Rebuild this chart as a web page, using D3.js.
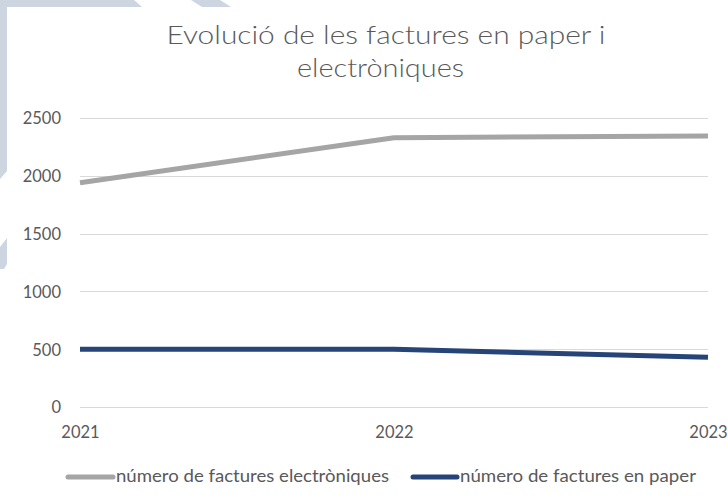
<!DOCTYPE html>
<html><head><meta charset="utf-8">
<script src="https://cdn.jsdelivr.net/npm/d3@7"></script>
<style>html,body{margin:0;padding:0;background:#fff;}svg{display:block;}</style>
</head><body>
<svg id="c" width="728" height="502"></svg>
<script>
const years = ["2021", "2022", "2023"];
const electroniques = [1940, 2330, 2345];
const paper = [500, 500, 430];
const yTicks = [0, 500, 1000, 1500, 2000, 2500];
const titleLines = ["Evolució de les factures en paper i", "electròniques"];
const seriesNames = ["número de factures electròniques", "número de factures en paper"];

const svg = d3.select("#c");
const font = "Lato, 'Open Sans', sans-serif";

// decorative background shapes
const deco = "#cdd5e0";
[
  [[0,0],[134,0],[142,7],[0,7]],
  [[191,0],[220,0],[231,7],[202,7]],
  [[0,0],[7,0],[7,171],[0,179]],
  [[0,247],[7,238],[7,264],[4,269],[0,269]]
].forEach(p => svg.append("polygon").attr("points", p.map(d => d.join(",")).join(" ")).attr("fill", deco));

const x = d3.scalePoint().domain(years).range([80, 708]);
const y = d3.scaleLinear().domain([0, 2500]).range([407, 118]);

// gridlines
svg.append("g").selectAll("line").data(yTicks).join("line")
  .attr("x1", 80).attr("x2", 708)
  .attr("y1", d => Math.round(y(d)) + 0.5).attr("y2", d => Math.round(y(d)) + 0.5)
  .attr("stroke", "#d9d9d9").attr("stroke-width", 1);

// y axis labels
const yAxis = d3.axisLeft(y).tickValues(yTicks).tickFormat(d3.format("d")).tickSize(0).tickPadding(0);
const gy = svg.append("g").attr("transform", "translate(61,0)").call(yAxis);
gy.select(".domain").remove();
gy.selectAll("text").attr("font-family", font).attr("font-size", 16.5).attr("fill", "#595959").attr("dy", "0.36em");

// x axis labels
const xAxis = d3.axisBottom(x).tickSize(0).tickPadding(0);
const gx = svg.append("g").attr("transform", "translate(0,426)").call(xAxis);
gx.select(".domain").remove();
gx.selectAll("text").attr("font-family", font).attr("font-size", 16.5).attr("fill", "#595959").attr("dy", "0.71em");

// lines
const line = d3.line().x((d, i) => x(years[i])).y(d => y(d));
svg.append("path").datum(electroniques).attr("d", line)
  .attr("fill", "none").attr("stroke", "#a5a5a5").attr("stroke-width", 5).attr("stroke-linejoin", "round");
svg.append("path").datum(paper).attr("d", line)
  .attr("fill", "none").attr("stroke", "#264478").attr("stroke-width", 5).attr("stroke-linejoin", "round");

// title
const tl = [{t: titleLines[0], cx: 386, by: 44, w: 439}, {t: titleLines[1], cx: 380.5, by: 77, w: 167}];
svg.append("g").selectAll("text").data(tl).join("text")
  .attr("x", d => d.cx).attr("y", d => d.by).attr("text-anchor", "middle")
  .attr("font-family", font).attr("font-size", 25).attr("font-weight", 300).attr("fill", "#595959")
  .attr("textLength", d => d.w).attr("lengthAdjust", "spacingAndGlyphs")
  .text(d => d.t);

// legend
const leg = [
  {name: seriesNames[0], color: "#a5a5a5", x0: 68, x1: 113, tx: 116, w: 273},
  {name: seriesNames[1], color: "#264478", x0: 413, x1: 457, tx: 460, w: 236}
];
const lg = svg.append("g");
lg.selectAll("line").data(leg).join("line")
  .attr("x1", d => d.x0).attr("x2", d => d.x1).attr("y1", 477).attr("y2", 477)
  .attr("stroke", d => d.color).attr("stroke-width", 5).attr("stroke-linecap", "round");
lg.selectAll("text").data(leg).join("text")
  .attr("x", d => d.tx).attr("y", 482)
  .attr("font-family", font).attr("font-size", 16.5).attr("fill", "#595959")
  .attr("textLength", d => d.w).attr("lengthAdjust", "spacingAndGlyphs")
  .text(d => d.name);
</script>
</body></html>
